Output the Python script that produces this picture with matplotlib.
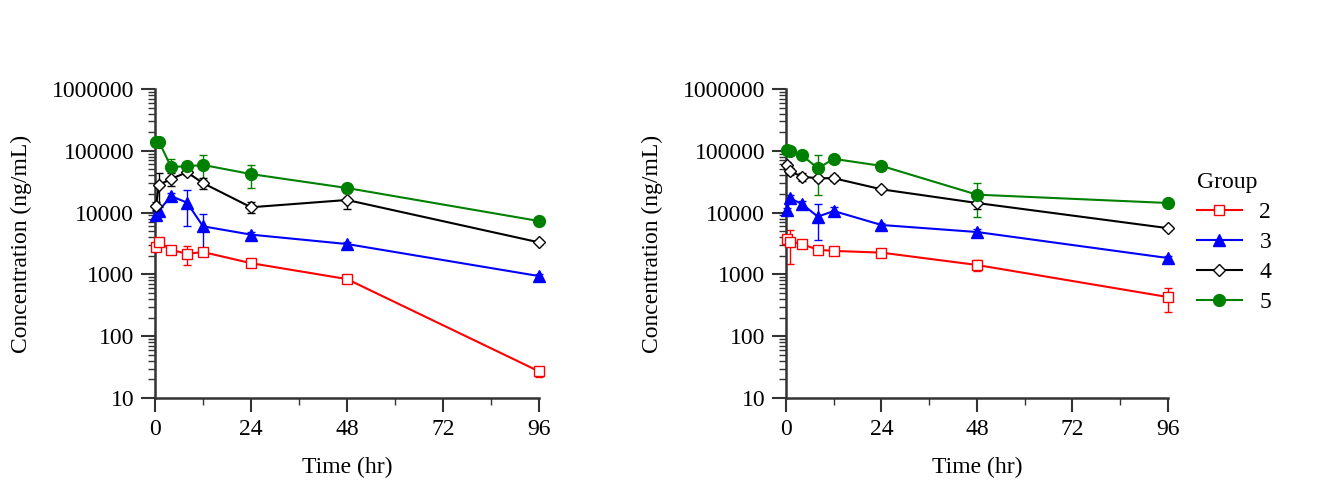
import numpy as np
import matplotlib
matplotlib.use("Agg")
import matplotlib.pyplot as plt
from matplotlib.ticker import FixedLocator, LogLocator, NullFormatter

plt.rcParams['font.family'] = ['Liberation Serif', 'DejaVu Serif']

# sampling times (hr)
time = [0.25, 1, 4, 8, 12, 24, 48, 96]
groups = ["2", "3", "4", "5"]

# left panel: mean concentration (ng/mL) per group
left_mean = {
    "2": [2750, 3400, 2500, 2150, 2300, 1520, 840, 27],
    "3": [9200, 10800, 18500, 14500, 6000, 4400, 3100, 940],
    "4": [13000, 28000, 35000, 45000, 30000, 12200, 16000, 3300],
    "5": [140000, 140000, 55000, 56000, 59000, 42000, 25000, 7300],
}
left_sd = {
    "2": [400, 500, 300, 750, 300, 150, 100, 5],
    "3": [1500, 1500, 2500, 8500, 3600, 500, 300, 60],
    "4": [2000, 15000, 8000, 4000, 6000, 2500, 4500, 250],
    "5": [10000, 10000, 18000, 5000, 25000, 17000, 2000, 500],
}

# right panel
right_mean = {
    "2": [3800, 3400, 3100, 2500, 2400, 2250, 1420, 430],
    "3": [11000, 17000, 13800, 8600, 10600, 6300, 4850, 1840],
    "4": [58000, 47000, 38000, 36000, 36000, 23800, 14300, 5600],
    "5": [103000, 98000, 85000, 52000, 74000, 57000, 19500, 14300],
}
right_sd = {
    "2": [600, 1900, 400, 200, 300, 250, 300, 180],
    "3": [1000, 2000, 1500, 5000, 1500, 500, 600, 150],
    "4": [8000, 6000, 6000, 3000, 4000, 1500, 3000, 400],
    "5": [8000, 8000, 5000, 33000, 5000, 4000, 11000, 1500],
}

colors = {"2": "#FF0000", "3": "#0000FF", "4": "#000000", "5": "#008000"}
markers = {"2": "s", "3": "^", "4": "D", "5": "o"}
filled = {"2": False, "3": True, "4": False, "5": True}
msizes = {"2": 7.5, "3": 8, "4": 6, "5": 8.5}

fig = plt.figure(figsize=(13.42, 4.93), dpi=100)
ax1 = fig.add_axes([0.1155, 0.1927, 0.2861, 0.6268])
ax2 = fig.add_axes([0.5857, 0.1927, 0.2846, 0.6268])

FS = 17


def draw(ax, means, sds):
    for g in groups:
        c = colors[g]
        face = c if filled[g] else "white"
        ax.errorbar(time, means[g], yerr=sds[g], fmt="none", ecolor=c,
                    elinewidth=1.0, capsize=3, capthick=1.0, clip_on=False)
        ax.plot(time, means[g], color=c, lw=1.5, marker=markers[g],
                ms=msizes[g], mfc=face, mec=c, mew=1.0, label=g,
                clip_on=False, zorder=3)
    ax.set_yscale("log")
    ax.set_ylim(10, 1e6)
    ax.set_xlim(0, 96)
    ax.set_yticks([10, 100, 1000, 10000, 100000, 1000000])
    ax.set_yticklabels(["10", "100", "1000", "10000", "100000", "1000000"])
    ax.yaxis.set_minor_locator(LogLocator(base=10, subs=np.arange(2, 10)))
    ax.yaxis.set_minor_formatter(NullFormatter())
    ax.set_xticks([0, 24, 48, 72, 96])
    ax.xaxis.set_minor_locator(FixedLocator([12, 36, 60, 84]))
    for s in ["top", "right"]:
        ax.spines[s].set_visible(False)
    for s in ["left", "bottom"]:
        ax.spines[s].set_linewidth(1.8)
        ax.spines[s].set_color("#333333")
    ax.tick_params(which="major", length=10, width=1.5, color="#333333",
                   labelsize=FS, pad=5)
    ax.tick_params(which="minor", length=5, width=1.0, color="#333333")
    ax.set_xlabel("Time (hr)", fontsize=FS, labelpad=12)
    ax.set_ylabel("Concentration (ng/mL)", fontsize=FS, labelpad=14)


draw(ax1, left_mean, left_sd)
draw(ax2, right_mean, right_sd)

ax2.legend(title="Group", loc="upper left", bbox_to_anchor=(1.02, 0.8),
           frameon=False, fontsize=FS, title_fontsize=FS, alignment="left",
           handlelength=1.9, handletextpad=0.75, labelspacing=0.36,
           numpoints=1)

fig.savefig("out.png", dpi=100)
